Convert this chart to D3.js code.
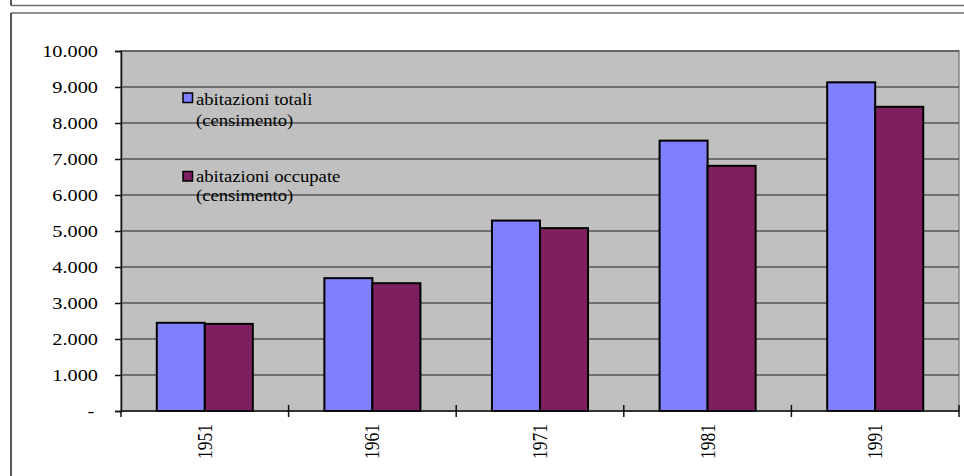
<!DOCTYPE html>
<html>
<head>
<meta charset="utf-8">
<script src="https://cdn.jsdelivr.net/npm/d3@7"></script>
<style>
  html, body { margin: 0; padding: 0; background: #fff; }
  svg { display: block; }
  text { font-family: "Liberation Serif", "Times New Roman", serif; fill: #000; }
</style>
</head>
<body>
<svg id="chart" width="964" height="476"></svg>
<script>
// Census housing stock (abitazioni), by census year
const years = ["1951", "1961", "1971", "1981", "1991"];
const abitazioniTotali = [2450, 3690, 5290, 7510, 9130];
const abitazioniOccupate = [2420, 3550, 5080, 6810, 8450];
const seriesNames = ["abitazioni totali", "abitazioni occupate"];
const seriesSub = ["(censimento)", "(censimento)"];
const yTicks = [0, 1000, 2000, 3000, 4000, 5000, 6000, 7000, 8000, 9000, 10000];

const colors = ["#8080ff", "#7f1f5f"];
const series = [abitazioniTotali, abitazioniOccupate];

const svg = d3.select("#chart");
const W = 964, H = 476;
const plot = { left: 121, right: 959, top: 51, bottom: 411 };
// font size and horizontal stretch for each text group
const yText = { fs: 16.5, sx: 1.23 };
const xText = { fs: 17.5, sx: 1.15 };
const lgText = { fs: 16.5, sx: 1.13 };

// Outer frame lines
const frame = svg.append("g");
frame.append("line").attr("x1", 11).attr("x2", W).attr("y1", 5.5).attr("y2", 5.5)
  .attr("stroke", "#6e6e6e").attr("stroke-width", 1.5);
frame.append("line").attr("x1", 11).attr("x2", 11).attr("y1", 0).attr("y2", 5.5)
  .attr("stroke", "#222").attr("stroke-width", 1.5);
frame.append("line").attr("x1", 11).attr("x2", W).attr("y1", 13).attr("y2", 13)
  .attr("stroke", "#6e6e6e").attr("stroke-width", 1.5);
frame.append("line").attr("x1", 11).attr("x2", 11).attr("y1", 13).attr("y2", H)
  .attr("stroke", "#222").attr("stroke-width", 1.5);

// Scales
const y = d3.scaleLinear().domain([0, 10000]).range([plot.bottom, plot.top]);
const x0 = d3.scaleBand().domain(years).range([plot.left, plot.right]).padding(0);
const groupW = x0.bandwidth() * 0.573;
const x1 = d3.scaleBand().domain([0, 1])
  .range([(x0.bandwidth() - groupW) / 2, (x0.bandwidth() + groupW) / 2]).padding(0);

// Plot background
svg.append("rect")
  .attr("x", plot.left).attr("y", plot.top)
  .attr("width", plot.right - plot.left).attr("height", plot.bottom - plot.top)
  .attr("fill", "#c0c0c0").attr("stroke", "#858585").attr("stroke-width", 1.5);

// Gridlines
svg.append("g").selectAll("line")
  .data(yTicks.filter(d => d > 0))
  .join("line")
  .attr("x1", plot.left).attr("x2", plot.right)
  .attr("y1", d => y(d)).attr("y2", d => y(d))
  .attr("stroke", "#555").attr("stroke-width", 1.5);

// Bars
const groups = svg.append("g").selectAll("g")
  .data(years)
  .join("g")
  .attr("transform", d => `translate(${x0(d)},0)`);
groups.selectAll("rect")
  .data((d, i) => series.map((s, k) => ({ k, v: s[i] })))
  .join("rect")
  .attr("x", d => x1(d.k))
  .attr("width", x1.bandwidth())
  .attr("y", d => y(d.v))
  .attr("height", d => y(0) - y(d.v))
  .attr("fill", d => colors[d.k])
  .attr("stroke", "#000").attr("stroke-width", 2);

// Y axis
const loc = d3.formatLocale({ decimal: ",", thousands: ".", grouping: [3], currency: ["", ""] });
const fmt = loc.format(",d");
const yAxis = d3.axisLeft(y).tickValues(yTicks).tickSize(6).tickPadding(17)
  .tickFormat(d => d === 0 ? "-" : fmt(d));
const yg = svg.append("g").attr("transform", `translate(${plot.left},0)`).call(yAxis);
yg.select(".domain").attr("stroke", "#111").attr("stroke-width", 1.5);
yg.selectAll(".tick line").attr("stroke", "#111").attr("stroke-width", 1.5);
yg.selectAll(".tick text")
  .attr("font-size", yText.fs)
  .attr("dy", null).attr("dominant-baseline", "central")
  .attr("transform", function () {
    const xx = +d3.select(this).attr("x");
    return `translate(${xx},0) scale(${yText.sx},1)`;
  })
  .attr("x", 0)
  .attr("dx", d => d === 0 ? -3 : 0);

// X axis line and ticks at category boundaries
const xg = svg.append("g");
xg.append("line").attr("x1", plot.left).attr("x2", plot.right)
  .attr("y1", plot.bottom).attr("y2", plot.bottom)
  .attr("stroke", "#111").attr("stroke-width", 1.5);
const bounds = years.map(d => x0(d)).concat([x0.range()[1]]);
xg.selectAll("line.tk").data(bounds).join("line").attr("class", "tk")
  .attr("x1", d => d).attr("x2", d => d)
  .attr("y1", (d, i) => i === 0 ? plot.bottom : plot.bottom - 6)
  .attr("y2", plot.bottom + 6)
  .attr("stroke", "#111").attr("stroke-width", 1.5);

// X labels, rotated
xg.selectAll("text").data(years).join("text")
  .attr("transform", d => `translate(${x0(d) + x0.bandwidth() / 2},424) scale(${xText.sx},1) rotate(-90)`)
  .attr("text-anchor", "end")
  .attr("dominant-baseline", "central")
  .attr("font-size", xText.fs)
  .text(d => d);

// Legend
const legendRows = [{ sq: 93, l1: 105, l2: 125.5 }, { sq: 171.5, l1: 181.5, l2: 201 }];
const lg = svg.append("g");
seriesNames.forEach((name, i) => {
  const r = legendRows[i];
  lg.append("rect").attr("x", 183).attr("y", r.sq).attr("width", 9.5).attr("height", 9.5)
    .attr("fill", colors[i]).attr("stroke", "#000").attr("stroke-width", 1.5);
  lg.append("text").attr("transform", `translate(196,${r.l1}) scale(${lgText.sx},1)`)
    .attr("font-size", lgText.fs).text(name);
  lg.append("text").attr("transform", `translate(196,${r.l2}) scale(${lgText.sx},1)`)
    .attr("font-size", lgText.fs).text(seriesSub[i]);
});
</script>
</body>
</html>
